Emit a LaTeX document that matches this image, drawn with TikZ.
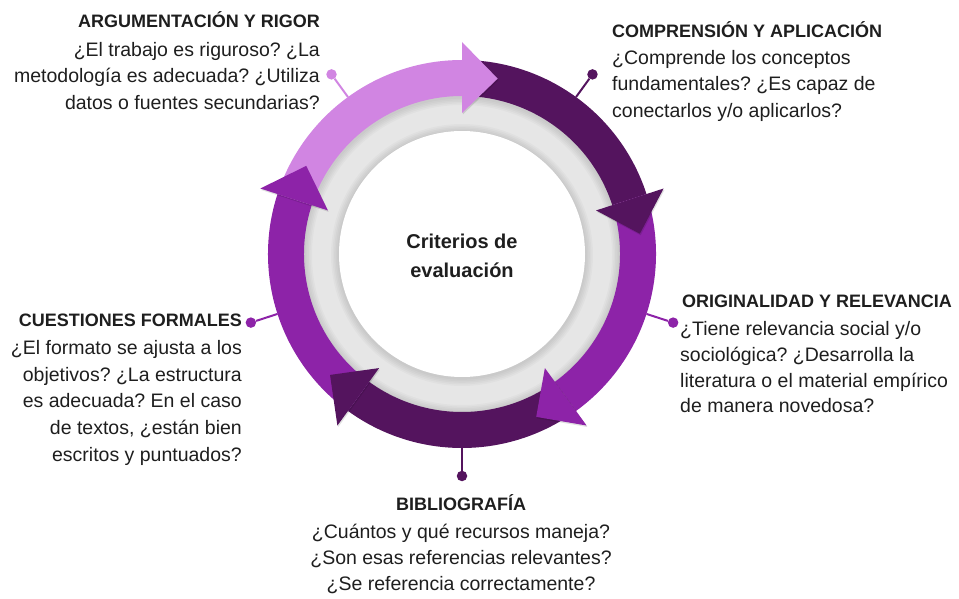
\documentclass[tikz,border=0pt]{standalone}
\usepackage{fontspec}
\setmainfont{Liberation Sans}
\frenchspacing
\definecolor{lightp}{HTML}{D185E2}
\definecolor{darkp}{HTML}{54145E}
\definecolor{midp}{HTML}{8D23A8}
\definecolor{ringgray}{HTML}{E6E6E6}
\definecolor{txt}{HTML}{1E1E1E}
\begin{document}
\begin{tikzpicture}[x=1pt,y=1pt,
  titletext/.style={inner sep=0pt, font=\fontsize{18}{22}\selectfont\bfseries, text=txt},
  bodytext/.style={inner sep=0pt, font=\fontsize{19.5}{26.6}\selectfont, text=txt},
  dotnode/.style={circle, inner sep=0pt, minimum size=10.5pt},
  linkline/.style={line width=2pt},
  softshade/.style={black, opacity=0.025, even odd rule}]
\useasboundingbox (0,0) rectangle (959,598);
\coordinate (O) at (462,344);
\begin{scope}[shift={(O)}]
  \fill[ringgray] (0,0) circle[radius=162];
  \foreach \k in {1,...,5}{
    \fill[softshade] (0,0) circle[radius=162] (0,-1) circle[radius={158-1.6*\k}];
    \fill[softshade] (0,-1) circle[radius={123+1.6*\k}] (0,0) circle[radius=100];
  }
  \fill[white] (0,0) circle[radius=123];
  \foreach \s/\e/\c in {162/90/lightp, 90/18/darkp, 18/-54/midp, -54/-126/darkp, -126/-198/midp}{
    \fill[\c] (\s:194) arc[start angle=\s, end angle=\e, radius=194] -- (\e:158)
      arc[start angle=\e, end angle=\s, radius=158] -- cycle;
  }
  \foreach \e/\c in {90/lightp, 18/darkp, -54/midp, -126/darkp, -198/midp}{
    \fill[black, opacity=0.12] ([shift={(0.8,-1.5)}]\e:141) -- ([shift={(0.8,-1.5)}]\e:212) -- ([shift={(0.8,-1.5)}]{\e-11.5}:179) -- cycle;
    \fill[\c] (\e:141) -- (\e:212) -- ({\e-11.5}:179) -- cycle;
  }
  \coordinate (c1) at (126:194);
  \coordinate (c2) at (54:194);
  \coordinate (c3) at (-18:194);
  \coordinate (c4) at (-90:194);
  \coordinate (c5) at (198:194);
  \node[dotnode, fill=lightp] (d1) at (126:222) {};
  \node[dotnode, fill=darkp] (d2) at (54:222) {};
  \node[dotnode, fill=midp] (d3) at (-18:222) {};
  \node[dotnode, fill=darkp] (d4) at (-90:222) {};
  \node[dotnode, fill=midp] (d5) at (198:222) {};
  \draw[linkline, lightp] (c1) -- (d1);
  \draw[linkline, darkp] (c2) -- (d2);
  \draw[linkline, midp] (c3) -- (d3);
  \draw[linkline, darkp] (c4) -- (d4);
  \draw[linkline, midp] (c5) -- (d5);
  \node[font=\fontsize{20}{28.3}\selectfont\bfseries, align=center, text=txt] (ctr) at (0,-2) {Criterios de\\evaluación};
\end{scope}
\node[titletext, anchor=base east] (t1) at (320,570.7) {ARGUMENTACIÓN Y RIGOR};
\node[bodytext, anchor=base east, align=right] (b1) at (320,488.5) {¿El trabajo es riguroso? ¿La\\metodología es adecuada? ¿Utiliza\\datos o fuentes secundarias?};
\node[titletext, anchor=base west] (t2) at (612,560.7) {COMPRENSIÓN Y APLICACIÓN};
\node[bodytext, anchor=base west, align=left] (b2) at (612,480.7) {¿Comprende los conceptos\\fundamentales? ¿Es capaz de\\conectarlos y/o aplicarlos?};
\node[titletext, anchor=base east] (t3) at (242,271.3) {CUESTIONES FORMALES};
\node[bodytext, anchor=base east, align=right] (b3) at (242,137) {¿El formato se ajusta a los\\objetivos? ¿La estructura\\es adecuada? En el caso\\de textos, ¿están bien\\escritos y puntuados?};
\node[titletext, anchor=base west] (t4) at (682,290.7) {ORIGINALIDAD Y RELEVANCIA};
\node[bodytext, anchor=base west, align=left, font=\fontsize{19.5}{25.6}\selectfont] (b4) at (680,185.3) {¿Tiene relevancia social y/o\\sociológica? ¿Desarrolla la\\literatura o el material empírico\\de manera novedosa?};
\node[titletext, anchor=base] (t5) at (461,87.3) {BIBLIOGRAFÍA};
\node[bodytext, anchor=base, align=center, font=\fontsize{19.5}{25.9}\selectfont] (b5) at (461,8) {¿Cuántos y qué recursos maneja?\\¿Son esas referencias relevantes?\\¿Se referencia correctamente?};
\end{tikzpicture}
\end{document}
